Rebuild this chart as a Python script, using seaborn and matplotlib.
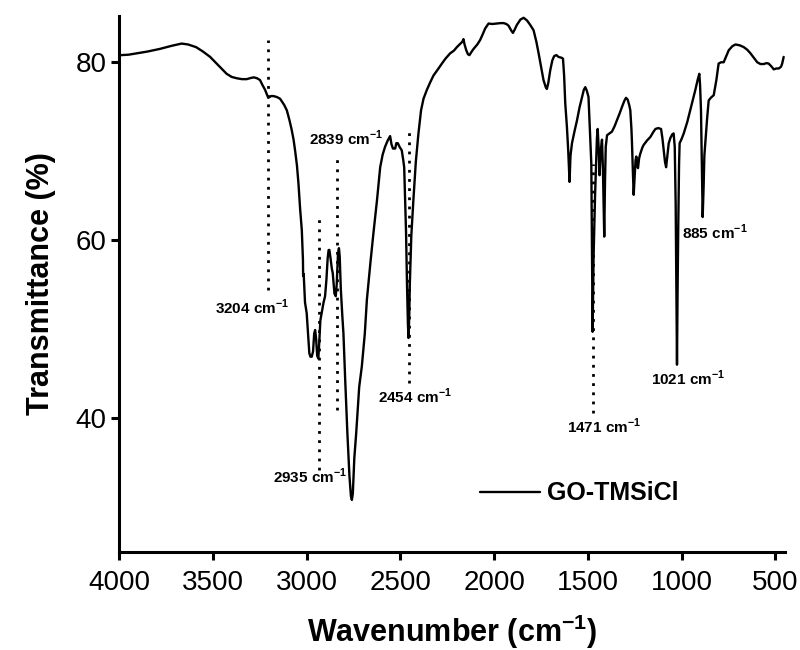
import matplotlib
matplotlib.use("Agg")
import matplotlib.pyplot as plt
import seaborn as sns
import pandas as pd

# ---- data ----
wavenumber = [
    4000, 3991, 3950, 3907, 3850, 3783, 3720, 3667, 3633, 3590, 3553, 3515, 3480, 3450, 3427,
    3400, 3373, 3345, 3320, 3295, 3281, 3265, 3249, 3235, 3222, 3205, 3190, 3178, 3160, 3142,
    3120, 3106, 3092, 3080, 3070, 3062, 3052, 3044, 3035, 3026, 3020, 3019, 3016, 3009, 3000,
    2993, 2986, 2980, 2973, 2966, 2960, 2955, 2950, 2944, 2938, 2933, 2927, 2920, 2910, 2902,
    2895, 2888, 2883, 2879, 2873, 2866, 2861, 2852, 2845, 2840, 2833, 2828, 2824, 2818, 2810,
    2804, 2795, 2783, 2772, 2764, 2759, 2754, 2746, 2736, 2720, 2706, 2690, 2679, 2660, 2644,
    2625, 2608, 2595, 2582, 2568, 2560, 2555, 2548, 2540, 2528, 2522, 2514, 2505, 2493, 2485,
    2480, 2475, 2470, 2465, 2460, 2457, 2453, 2450, 2442, 2431, 2418, 2404, 2390, 2377, 2359,
    2340, 2324, 2297, 2279, 2260, 2235, 2215, 2199, 2180, 2170, 2164, 2158, 2149, 2140, 2132,
    2120, 2110, 2090, 2075, 2060, 2048, 2030, 2010, 1985, 1965, 1950, 1935, 1923, 1910, 1900,
    1890, 1879, 1860, 1843, 1825, 1808, 1790, 1775, 1763, 1750, 1737, 1725, 1719, 1712, 1701,
    1690, 1680, 1668, 1657, 1640, 1633, 1627, 1621, 1612, 1605, 1598, 1593, 1585, 1572, 1558,
    1545, 1531, 1522, 1514, 1506, 1497, 1490, 1482, 1478, 1475, 1470, 1462, 1452, 1448, 1443,
    1438, 1432, 1425, 1420, 1416, 1413, 1409, 1405, 1398, 1385, 1372, 1358, 1345, 1330, 1318,
    1305, 1297, 1288, 1280, 1274, 1268, 1265, 1260, 1256, 1250, 1246, 1242, 1237, 1233, 1227,
    1221, 1210, 1203, 1185, 1167, 1150, 1140, 1125, 1110, 1103, 1096, 1089, 1083, 1076, 1069,
    1060, 1050, 1043, 1037, 1032, 1028, 1025, 1022, 1018, 1014, 1011, 1000, 989, 970, 954,
    940, 927, 915, 906, 902, 897, 893, 888, 883, 879, 874, 865, 856, 845, 829,
    815, 803, 790, 776, 760, 749, 730, 713, 690, 669, 650, 633, 615, 597, 580,
    562, 548, 536, 520, 509, 495, 482, 470, 464, 456,
]
transmittance = [
    80.7, 80.8, 80.85, 81.0, 81.2, 81.5, 81.85, 82.1, 82.0, 81.7, 81.2, 80.6, 79.85, 79.2, 78.7,
    78.35, 78.2, 78.1, 78.1, 78.25, 78.3, 78.2, 78.0, 77.4, 76.9, 76.0, 76.2, 76.2, 76.1, 75.9,
    75.2, 74.6, 73.5, 72.4, 71.3, 70.1, 68.4, 66.4, 63.5, 61.1, 57.8, 56.0, 56.2, 53.0, 51.8,
    49.5, 47.3, 46.9, 46.9, 47.5, 49.5, 49.9, 49.0, 47.0, 46.7, 48.5, 51.0, 51.8, 53.0, 53.7,
    55.5, 58.0, 58.9, 58.9, 58.0, 56.8, 56.3, 54.0, 53.7, 55.0, 58.5, 59.1, 58.2, 54.5, 51.5,
    49.5, 44.5, 38.3, 33.5, 31.2, 30.8, 31.5, 35.5, 38.3, 43.5, 45.8, 49.5, 53.3, 57.5, 60.8,
    64.5, 68.2, 69.6, 70.5, 71.2, 71.5, 71.7, 70.8, 70.3, 70.3, 70.9, 70.9, 70.5, 70.1, 69.0,
    68.2, 64.5, 60.8, 55.0, 50.5, 49.0, 51.5, 55.0, 60.5, 64.5, 68.8, 72.0, 74.6, 75.9, 76.9,
    77.8, 78.5, 79.3, 79.85, 80.4, 81.0, 81.3, 81.7, 82.1, 82.3, 82.6, 82.0, 81.35, 80.9, 80.8,
    81.2, 81.5, 82.0, 82.5, 83.2, 83.8, 84.35, 84.3, 84.35, 84.4, 84.4, 84.3, 84.1, 83.6, 83.3,
    83.7, 84.2, 84.8, 85.0, 84.7, 84.2, 83.6, 82.3, 81.0, 79.5, 78.0, 77.2, 77.0, 77.6, 79.1,
    80.2, 80.7, 80.8, 80.6, 80.5, 80.4, 78.5, 75.4, 72.7, 70.0, 66.55, 69.5, 70.9, 72.2, 73.5,
    74.9, 76.1, 76.9, 77.2, 76.8, 76.1, 72.5, 68.6, 58.0, 49.7, 58.0, 65.0, 71.5, 72.5, 70.5,
    67.3, 70.0, 71.3, 68.0, 63.5, 60.4, 66.5, 70.5, 71.8, 72.0, 72.2, 72.8, 73.5, 74.3, 75.0,
    75.7, 76.0, 75.8, 75.2, 74.6, 72.5, 70.9, 67.5, 65.1, 67.5, 69.0, 69.4, 68.4, 68.1, 69.2,
    69.7, 70.4, 70.7, 71.2, 71.6, 72.2, 72.5, 72.6, 72.5, 71.5, 70.1, 68.8, 68.2, 69.5, 70.9,
    71.5, 71.9, 72.0, 70.5, 64.0, 54.0, 46.0, 54.0, 62.0, 68.5, 70.9, 71.4, 72.0, 73.3, 74.6,
    75.8, 76.9, 78.0, 78.7, 77.5, 74.6, 69.0, 62.6, 66.0, 69.5, 70.9, 73.5, 75.7, 76.0, 76.3,
    78.0, 79.85, 80.0, 80.0, 80.8, 81.35, 81.8, 82.0, 81.9, 81.7, 81.4, 81.0, 80.5, 80.0, 79.8,
    79.8, 79.9, 79.85, 79.5, 79.2, 79.3, 79.3, 79.5, 79.85, 80.6,
]
series_name = "GO-TMSiCl"

peak_values = ["3204", "2935", "2839", "2454", "1471", "1021", "885"]
x_ticks = [4000, 3500, 3000, 2500, 2000, 1500, 1000, 500]
y_ticks = [40, 60, 80]

# annotation layout (positions in data units)
label_x = [3289, 2982, 2790, 2422, 1413, 967, 823]
label_y = [52.4, 33.4, 71.5, 42.4, 39.1, 44.5, 60.9]
guide_x = [3204, 2935, 2839, 2454, 1471]
guide_top = [82.55, 62.4, 69.2, 72.4, 68.6]
guide_bottom = [54.4, 34.2, 40.9, 43.9, 40.6]

sns.set_theme(style="ticks")
plt.rcParams["font.family"] = ["Liberation Sans", "DejaVu Sans"]
plt.rcParams["mathtext.fontset"] = "custom"
plt.rcParams["mathtext.rm"] = "Liberation Sans"
plt.rcParams["mathtext.bf"] = "Liberation Sans:bold"
for key in ["text.color", "axes.labelcolor", "xtick.color", "ytick.color",
            "axes.edgecolor", "xtick.labelcolor", "ytick.labelcolor"]:
    plt.rcParams[key] = "black"

df = pd.DataFrame({"Wavenumber": wavenumber, "Transmittance": transmittance,
                   "Sample": series_name})

fig = plt.figure(figsize=(8, 6.5), dpi=100)
ax = fig.add_axes([0.149, 0.1515, 0.832, 0.8239])

sns.lineplot(data=df, x="Wavenumber", y="Transmittance", hue="Sample",
             palette=["black"], estimator=None, sort=True, linewidth=1.7, ax=ax)

for gx, gt, gb in zip(guide_x, guide_top, guide_bottom):
    ax.plot([gx, gx], [gb, gt], color="black", linewidth=2.0,
            linestyle=(0, (1.0, 2.3)))

for txt, lx, ly in zip(peak_values, label_x, label_y):
    ax.text(lx, ly, txt + r" cm$^{\mathbf{-1}}$", ha="center", va="center",
            fontsize=11, fontweight="bold", color="black")

ax.set_xlim(4000, 450)
ax.set_ylim(25, 85.2)
ax.set_xticks(x_ticks)
ax.set_yticks(y_ticks)
ax.tick_params(axis="both", labelsize=20, width=2.2, length=6, color="black",
               labelcolor="black", direction="out")
ax.tick_params(axis="x", pad=7)
ax.tick_params(axis="y", pad=3)
for s in ["left", "bottom"]:
    ax.spines[s].set_linewidth(2.2)
    ax.spines[s].set_color("black")
for s in ["top", "right"]:
    ax.spines[s].set_visible(False)

ax.set_xlabel(r"Wavenumber (cm$^{\mathbf{-1}}$)", fontsize=22, fontweight="bold",
              labelpad=12, color="black")
ax.set_ylabel("Transmittance (%)", fontsize=22, fontweight="bold", labelpad=14,
              color="black")

leg = ax.legend(loc="center left", bbox_to_anchor=(0.5418, 0.1087), frameon=False,
                borderpad=0, borderaxespad=0, handlelength=2.4, handletextpad=0.3,
                prop={"weight": "bold", "size": 18})
for line in leg.get_lines():
    line.set_linewidth(1.7)
for t in leg.get_texts():
    t.set_color("black")

fig.savefig("out.png", dpi=100)
